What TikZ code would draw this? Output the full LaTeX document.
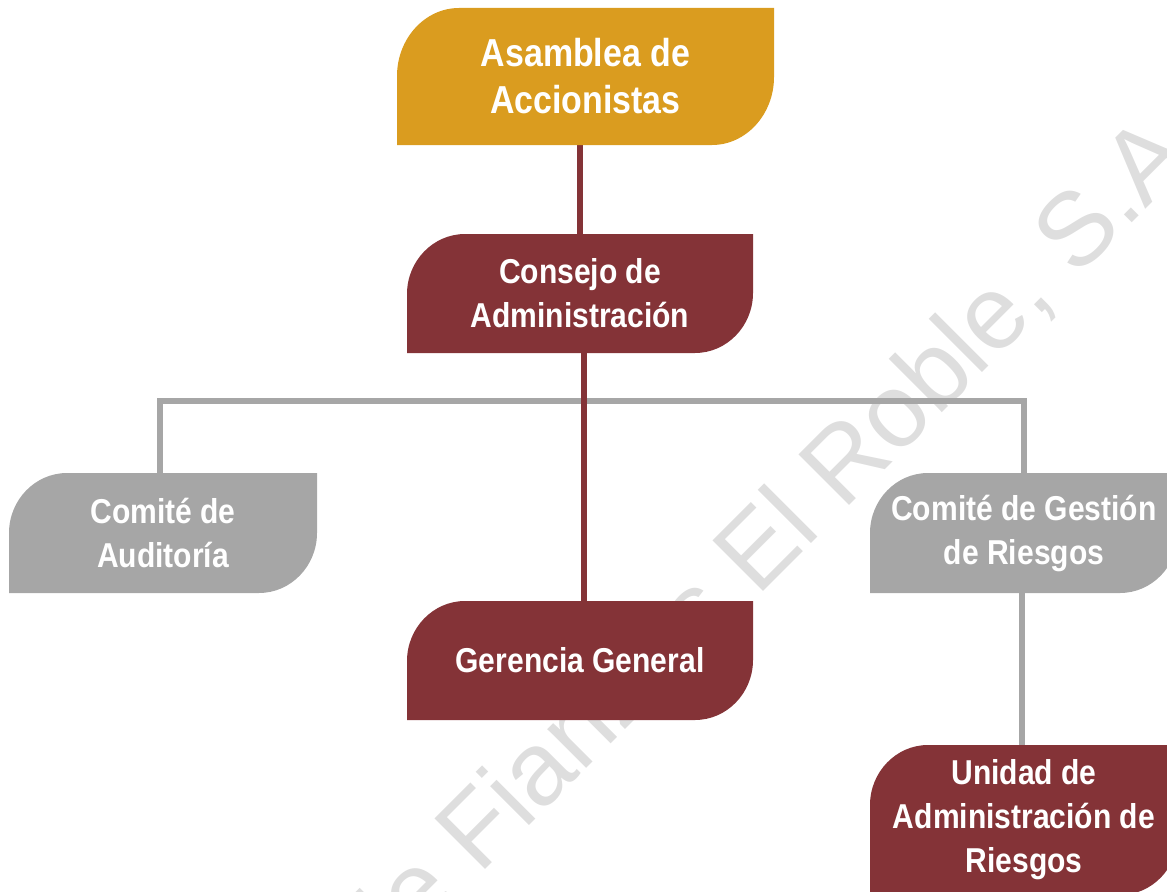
\documentclass[tikz,border=0pt]{standalone}
\usepackage{fontspec}
\setmainfont{Liberation Sans}[FakeStretch=0.87]
\newfontfamily\marcafont{Liberation Sans}
\usetikzlibrary{calc,backgrounds}
\definecolor{oro}{RGB}{218,156,31}
\definecolor{vino}{RGB}{132,51,55}
\definecolor{gris}{RGB}{166,166,166}
\definecolor{marcagris}{RGB}{222,222,222}

% caja con dos esquinas redondeadas (arriba izq., abajo der.)
\tikzset{
  hoja/.style n args={3}{inner sep=0pt, align=center, text=white,
    font=\bfseries\fontsize{25.9}{33}\selectfont,
    path picture={
      \fill[#1] (path picture bounding box.south west)
        -- ($(path picture bounding box.north west)+(0,#3)$)
        .. controls ($(path picture bounding box.north west)+(0,0.45*#3)$)
                and ($(path picture bounding box.north west)+(0.45*#2,0)$)
        .. ($(path picture bounding box.north west)+(#2,0)$)
        -- (path picture bounding box.north east)
        -- ($(path picture bounding box.south east)+(0,-#3)$)
        .. controls ($(path picture bounding box.south east)+(0,-0.45*#3)$)
                and ($(path picture bounding box.south east)+(-0.45*#2,0)$)
        .. ($(path picture bounding box.south east)+(-#2,0)$)
        -- cycle;}},
  conector/.style={line width=4.3pt, draw=#1},
}

\begin{document}
\begin{tikzpicture}[x=0.75pt,y=-0.75pt]
\useasboundingbox (0,0) rectangle (1167,892);
\clip (0,0) rectangle (1167,892);

% cajas
\node[hoja={oro}{62}{68}, minimum width=282.75pt, minimum height=102.75pt,
      font=\bfseries\fontsize{29.25}{35.25}\selectfont]
      (asamblea) at (585.5,76.5) {Asamblea de\\Accionistas};
\node[hoja={vino}{58}{60}, minimum width=259.5pt, minimum height=89.25pt]
      (consejo) at (580,293.5) {Consejo de\\Administración};
\node[hoja={gris}{58}{60}, minimum width=231pt, minimum height=90pt]
      (auditoria) at (163,533) {Comité de\\Auditoría};
\node[hoja={gris}{58}{60}, minimum width=231pt, minimum height=90pt]
      (gestion) at (1024,533) {Comité de Gestión\\de Riesgos};
\node[hoja={vino}{58}{60}, minimum width=259.5pt, minimum height=89.25pt]
      (gerencia) at (580,660.5) {Gerencia General};
\node[hoja={vino}{58}{60}, minimum width=231pt, minimum height=112.5pt]
      (unidad) at (1024,820) {Unidad de\\Administración de\\Riesgos};

\begin{scope}[on background layer]
  % marca de agua
  \node[rotate=45, anchor=base west, inner sep=0pt, text=marcagris,
        font=\marcafont\fontsize{78}{80}\selectfont]
        (marca) at (377,978) {de Fianzas El Roble, S.A.};
  % lineas
  \coordinate (bus) at (0,401);
  \draw[conector=gris] ([xshift=-2.5pt]auditoria.north) |- (bus -| gestion.north)
    -- (gestion.north);
  \draw[conector=gris] ([xshift=-1.5pt]gestion.south) -- ([xshift=-1.5pt]unidad.north);
  \draw[conector=vino] (asamblea.south -| consejo.north) -- (consejo.north);
  \draw[conector=vino] ([xshift=3pt]consejo.south) -- ([xshift=3pt]gerencia.north);
\end{scope}
\end{tikzpicture}
\end{document}
